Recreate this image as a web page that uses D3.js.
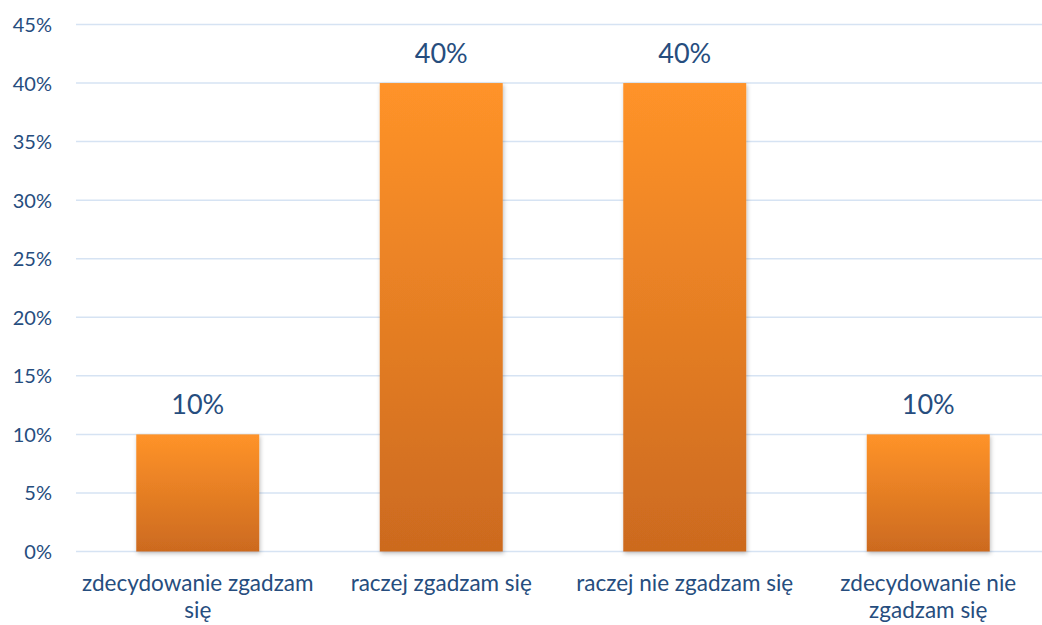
<!DOCTYPE html>
<html><head><meta charset="utf-8">
<script src="https://cdn.jsdelivr.net/npm/d3@7"></script>
<style>
html,body{margin:0;padding:0;background:#fff;}
text{font-family:Lato,"Open Sans",sans-serif;fill:#264d7e;}
</style></head>
<body><svg id="c" width="1042" height="625"></svg>
<script>
const categories = ["zdecydowanie zgadzam się","raczej zgadzam się","raczej nie zgadzam się","zdecydowanie nie zgadzam się"];
const values = [0.10,0.40,0.40,0.10];
const yTicks = [0,0.05,0.10,0.15,0.20,0.25,0.30,0.35,0.40,0.45];

(function(){
const svg = d3.select("#c");
const mLeft = 76, mRight = 1050, mTop = 24.5, mBottom = 551.5;

const x = d3.scaleBand().domain(categories).range([mLeft,mRight]).paddingInner(0.495).paddingOuter(0.2475);
const y = d3.scaleLinear().domain([0,0.45]).range([mBottom,mTop]);

const defs = svg.append("defs");
const g = defs.append("linearGradient").attr("id","grad").attr("x1",0).attr("y1",0).attr("x2",0).attr("y2",1);
g.append("stop").attr("offset","0%").attr("stop-color","#ff9329");
g.append("stop").attr("offset","100%").attr("stop-color","#cc6a1f");
const f = defs.append("filter").attr("id","sh").attr("x","-10%").attr("y","-10%").attr("width","130%").attr("height","130%");
f.append("feDropShadow").attr("dx",1).attr("dy",2).attr("stdDeviation",2).attr("flood-color","#000").attr("flood-opacity",0.25);

svg.append("g").selectAll("line").data(yTicks).join("line")
  .attr("x1",mLeft).attr("x2",mRight).attr("y1",d=>y(d)).attr("y2",d=>y(d))
  .attr("stroke","#d6e3f3").attr("stroke-width",1.5);

const yAxis = d3.axisLeft(y).tickValues(yTicks).tickFormat(d3.format(".0%")).tickSize(0).tickPadding(0);
const ya = svg.append("g").attr("transform",`translate(${mLeft-24},0)`).call(yAxis);
ya.select(".domain").remove();
ya.selectAll("text").attr("font-size",20).attr("font-family","Lato").attr("fill","#264d7e").attr("dy","0.35em");

svg.append("g").selectAll("rect").data(values).join("rect")
  .attr("x",(d,i)=>x(categories[i])).attr("width",x.bandwidth())
  .attr("y",d=>y(d)).attr("height",d=>y(0)-y(d))
  .attr("fill","url(#grad)").attr("filter","url(#sh)");

svg.append("g").selectAll("text").data(values).join("text")
  .attr("x",(d,i)=>x(categories[i])+x.bandwidth()/2).attr("y",d=>y(d)-20)
  .attr("text-anchor","middle").attr("font-size",27)
  .text(d=>d3.format(".0%")(d));

const xAxis = d3.axisBottom(x).tickSize(0).tickPadding(0);
const xa = svg.append("g").attr("transform",`translate(0,${mBottom})`).call(xAxis);
xa.select(".domain").remove();
xa.selectAll("text").attr("font-size",22.5).attr("font-family","Lato").attr("fill","#264d7e").attr("y",0).attr("dy",null)
  .each(function(t){
    const el = d3.select(this); const words = t.split(" "); el.text(null);
    let lines=[], cur=[];
    const tmp = el.append("tspan");
    words.forEach(w=>{ cur.push(w); tmp.text(cur.join(" ")); if(tmp.node().getComputedTextLength()>236 && cur.length>1){cur.pop(); lines.push(cur.join(" ")); cur=[w];}});
    lines.push(cur.join(" ")); tmp.remove();
    lines.forEach((l,i)=>el.append("tspan").attr("x",0).attr("y",39+i*27).text(l));
  });
})();
</script></body></html>
